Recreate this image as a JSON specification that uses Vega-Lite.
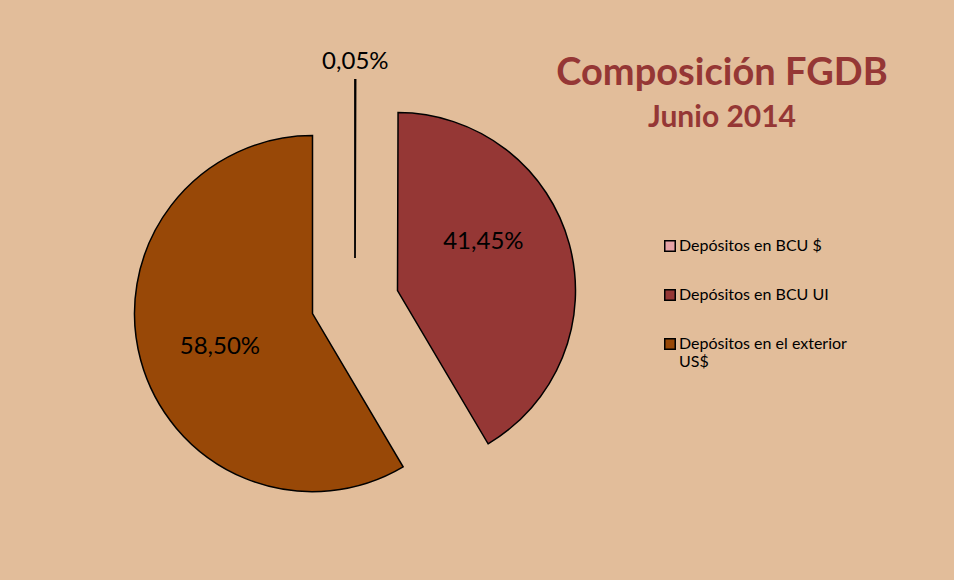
{
  "$schema": "https://vega.github.io/schema/vega-lite/v6.json",
  "width": 710,
  "height": 556,
  "autosize": "none",
  "padding": {"left": 0, "top": 24, "right": 244, "bottom": 0},
  "background": "#e2bd9a",
  "config": {"view": {"stroke": null}, "font": "Lato"},
  "title": {
    "text": "Composición FGDB",
    "subtitle": "Junio 2014",
    "anchor": "middle",
    "frame": "group",
    "dx": 367,
    "dy": 113,
    "font": "Lato",
    "fontSize": 38,
    "fontWeight": "bold",
    "color": "#953735",
    "subtitleFont": "Lato",
    "subtitleFontSize": 30,
    "subtitleFontWeight": "bold",
    "subtitleColor": "#953735",
    "subtitlePadding": 10
  },
  "data": {
    "values": [
      {"cat": "Depósitos en BCU $", "value": 0.05, "label": "0,05%", "ord": 1},
      {"cat": "Depósitos en BCU UI", "value": 41.45, "label": "41,45%", "ord": 2},
      {"cat": "Depósitos en el exterior US$", "value": 58.50, "label": "58,50%", "ord": 3}
    ]
  },
  "encoding": {
    "theta": {"field": "value", "type": "quantitative", "stack": true},
    "order": {"field": "ord", "type": "quantitative"},
    "color": {
      "field": "cat",
      "type": "nominal",
      "scale": {
        "domain": ["Depósitos en BCU $", "Depósitos en BCU UI", "Depósitos en el exterior US$"],
        "range": ["#e6a3a6", "#953735", "#984807"]
      },
      "legend": {
        "title": null,
        "orient": "none",
        "legendX": 662,
        "legendY": 214,
        "symbolType": "square",
        "symbolSize": 110,
        "symbolStrokeColor": "black",
        "symbolStrokeWidth": 1.5,
        "symbolOpacity": 1,
        "labelFont": "Lato",
        "labelFontSize": 16,
        "labelColor": "black",
        "labelOffset": 1,
        "labelLimit": 300,
        "rowPadding": 31,
        "labelExpr": "datum.label == 'Depósitos en el exterior US$' ? ['Depósitos en el exterior', 'US$'] : datum.label"
      }
    }
  },
  "layer": [
    {
      "mark": {"type": "arc", "outerRadius": 178, "stroke": "black", "strokeWidth": 1.8, "yOffset": -44},
      "encoding": {
        "opacity": {"condition": {"test": "datum.cat === 'Depósitos en BCU $'", "value": 1}, "value": 0}
      }
    },
    {
      "mark": {"type": "arc", "outerRadius": 178, "stroke": "black", "strokeWidth": 1.5, "xOffset": 42.5, "yOffset": -11.4},
      "encoding": {
        "opacity": {"condition": {"test": "datum.cat === 'Depósitos en BCU UI'", "value": 1}, "value": 0}
      }
    },
    {
      "mark": {"type": "arc", "outerRadius": 178, "stroke": "black", "strokeWidth": 1.5, "xOffset": -42.5, "yOffset": 11.6},
      "encoding": {
        "opacity": {"condition": {"test": "datum.cat === 'Depósitos en el exterior US$'", "value": 1}, "value": 0}
      }
    },
    {
      "mark": {"type": "text", "radius": 196, "yOffset": -44, "fontSize": 24, "font": "Lato", "baseline": "middle"},
      "encoding": {
        "color": {"value": "black"},
        "detail": {"field": "cat"},
        "text": {"condition": {"test": "datum.cat === 'Depósitos en BCU $'", "field": "label"}, "value": ""}
      }
    },
    {
      "mark": {"type": "text", "radius": 89, "xOffset": 42.5, "yOffset": -11.4, "dy": -25, "fontSize": 24, "font": "Lato", "baseline": "middle"},
      "encoding": {
        "color": {"value": "black"},
        "detail": {"field": "cat"},
        "text": {"condition": {"test": "datum.cat === 'Depósitos en BCU UI'", "field": "label"}, "value": ""}
      }
    },
    {
      "mark": {"type": "text", "radius": 96, "xOffset": -42.5, "yOffset": 11.6, "dy": 8, "fontSize": 24, "font": "Lato", "baseline": "middle"},
      "encoding": {
        "color": {"value": "black"},
        "detail": {"field": "cat"},
        "text": {"condition": {"test": "datum.cat === 'Depósitos en el exterior US$'", "field": "label"}, "value": ""}
      }
    }
  ]
}
